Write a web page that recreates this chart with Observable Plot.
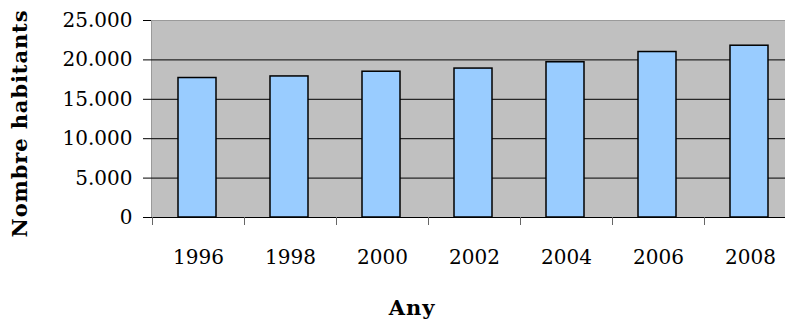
<!DOCTYPE html>
<html><head><meta charset="utf-8">
<script src="https://cdn.jsdelivr.net/npm/d3@7"></script>
<script src="https://cdn.jsdelivr.net/npm/@observablehq/plot@0.6"></script>
<style>body{margin:0;background:#fff;overflow:hidden}
g[font-weight="bold"] text{letter-spacing:0.9px}</style>
</head><body><div id="chart"></div>
<script>
const years = ["1996", "1998", "2000", "2002", "2004", "2006", "2008"];
const population = [17700, 17900, 18500, 18900, 19700, 21000, 21800];
const yTicks = [0, 5000, 10000, 15000, 20000, 25000];
const gridTicks = [5000, 10000, 15000, 20000];
const yLabel = "Nombre habitants";
const xLabel = "Any";

const data = years.map((year, i) => ({year, population: population[i]}));
const fmt = d => d3.format(",")(d).replace(/,/g, ".");

const chart = Plot.plot({
  width: 785, height: 320,
  marginLeft: 151, marginRight: -11, marginTop: 20, marginBottom: 103,
  style: {fontFamily: "DejaVu Serif", fontSize: "20px", color: "#000", background: "#fff", overflow: "hidden"},
  x: {domain: years, paddingInner: 0.59, paddingOuter: 0.295, align: 0.5, axis: null, label: null},
  y: {domain: [0, 25000], axis: null, label: null},
  marks: [
    Plot.frame({fill: "#c0c0c0", stroke: "#9a9a9a"}),
    Plot.gridY(gridTicks, {stroke: "#000", strokeOpacity: 1}),
    Plot.ruleY([0], {stroke: "#000"}),
    Plot.barY(data, {x: "year", y: "population", fill: "#99ccff", stroke: "#000", strokeWidth: 1.5, dx: -1}),
    Plot.axisX({tickSize: 8, tickFormat: () => "", dx: -46, stroke: "#666", label: null}),
    Plot.axisX({tickSize: 0, tickPadding: 32, label: null}),
    Plot.axisY(yTicks, {tickSize: 8, tickPadding: 11, tickFormat: fmt, stroke: "#000", label: null}),
    Plot.text([yLabel], {frameAnchor: "left", textAnchor: "middle", lineAnchor: "middle", dx: -131, dy: 4.5, rotate: -90, fontWeight: "bold", fontSize: 21}),
    Plot.text([xLabel], {frameAnchor: "bottom", textAnchor: "middle", lineAnchor: "middle", dx: -62, dy: 91, fontWeight: "bold", fontSize: 21})
  ]
});
document.getElementById("chart").appendChild(chart);
</script>
</body></html>
